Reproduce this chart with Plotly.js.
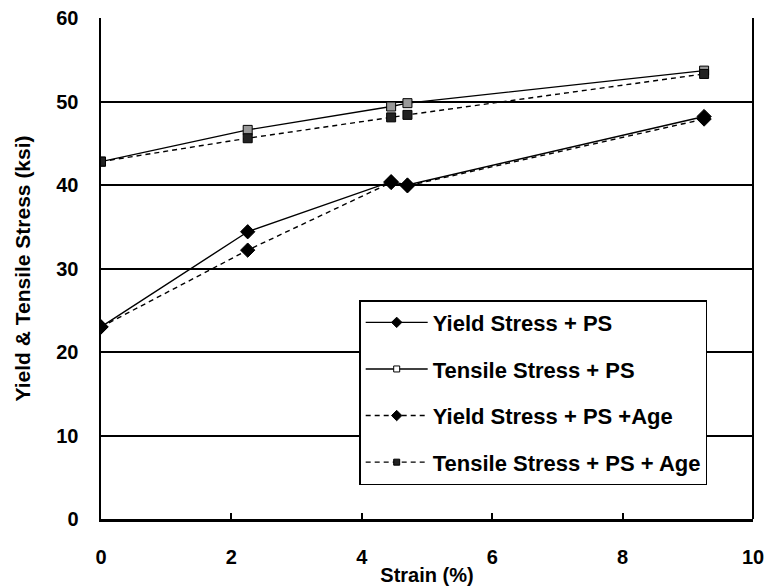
<!DOCTYPE html>
<html>
<head>
<meta charset="utf-8">
<script src="https://cdn.plot.ly/plotly-3.0.1.min.js"></script>
<style>html,body{margin:0;padding:0;background:#fff;}#chart{width:769px;height:588px;}</style>
</head>
<body>
<div id="chart"></div>
<script>
var strain = [0, 2.25, 4.45, 4.7, 9.25];
var yieldPS = [23.0, 34.4, 40.4, 40.0, 48.2];
var tensilePS = [42.8, 46.6, 49.4, 49.8, 53.7];
var yieldPSAge = [23.0, 32.2, 40.3, 39.9, 47.9];
var tensilePSAge = [42.8, 45.6, 48.1, 48.4, 53.3];
var seriesNames = ["Yield Stress + PS", "Tensile Stress + PS", "Yield Stress + PS +Age", "Tensile Stress + PS + Age"];
var xTicks = [0, 2, 4, 6, 8, 10];
var yTicks = [0, 10, 20, 30, 40, 50, 60];

var F = "Liberation Sans, Arial, sans-serif";
var styles = [
  {dash: "solid", sym: "diamond", size: 11, fill: "#000", lsize: 8, lfill: "#000"},
  {dash: "solid", sym: "square", size: 9, fill: "#999", lsize: 6, lfill: "#fff"},
  {dash: "5px,4px", sym: "diamond", size: 11, fill: "#000", lsize: 8, lfill: "#000"},
  {dash: "5px,4px", sym: "square", size: 9, fill: "#222", lsize: 6, lfill: "#222"}
];
var series = [yieldPS, tensilePS, yieldPSAge, tensilePSAge];
var data = [];
series.forEach(function (y, i) {
  var s = styles[i];
  data.push({
    x: strain, y: y, name: seriesNames[i], type: "scatter", mode: "lines+markers",
    showlegend: false,
    line: {color: "#000", width: 1.4, dash: s.dash},
    marker: {symbol: s.sym, size: s.size, color: s.fill, line: {color: "#000", width: 1}}
  });
});
series.forEach(function (y, i) {
  var s = styles[i];
  data.push({
    x: [null], y: [null], name: seriesNames[i], type: "scatter", mode: "lines+markers",
    legendgroup: "g" + i, showlegend: true,
    line: {color: "#000", width: 1.4, dash: s.dash},
    marker: {symbol: s.sym, size: s.lsize, color: s.lfill, line: {color: "#000", width: 1}}
  });
});
var layout = {
  width: 769, height: 588,
  margin: {l: 101, r: 16, t: 18, b: 69},
  paper_bgcolor: "#fff", plot_bgcolor: "#fff",
  font: {family: F, color: "#000", size: 20, weight: "bold"},
  showlegend: true,
  legend: {
    x: 0.396, xanchor: "left", y: 0.437, yanchor: "top",
    bordercolor: "#000", borderwidth: 1.5, bgcolor: "#fff",
    font: {family: F, size: 22, weight: "bold", color: "#000"},
    traceorder: "grouped", tracegroupgap: 15, itemwidth: 62
  },
  xaxis: {
    range: [0, 10], tickvals: xTicks, ticktext: xTicks.map(String),
    showgrid: false, zeroline: false,
    showline: true, linecolor: "#000", linewidth: 2.5, mirror: false,
    ticks: "inside", ticklen: 6, tickwidth: 2, tickcolor: "#000",
    ticklabelstandoff: 18,
    tickfont: {family: F, size: 20, weight: "bold"},
    title: {text: "Strain (%)", font: {family: F, size: 20, weight: "bold"}, standoff: 2}
  },
  yaxis: {
    range: [0, 60], tickvals: yTicks, ticktext: yTicks.map(String),
    showgrid: true, gridcolor: "#000", gridwidth: 2,
    zeroline: false,
    showline: true, linecolor: "#000", linewidth: 2.5,
    ticks: "", ticklabelstandoff: 16,
    tickfont: {family: F, size: 20, weight: "bold"},
    title: {text: "Yield & Tensile Stress (ksi)", font: {family: F, size: 21, weight: "bold"}, standoff: 20}
  },
  shapes: [
    {type: "line", xref: "paper", yref: "paper", x0: 1, x1: 1, y0: 0, y1: 1, line: {color: "#000", width: 2}}
  ]
};
Plotly.newPlot("chart", data, layout, {displayModeBar: false, staticPlot: true});
</script>
</body>
</html>
